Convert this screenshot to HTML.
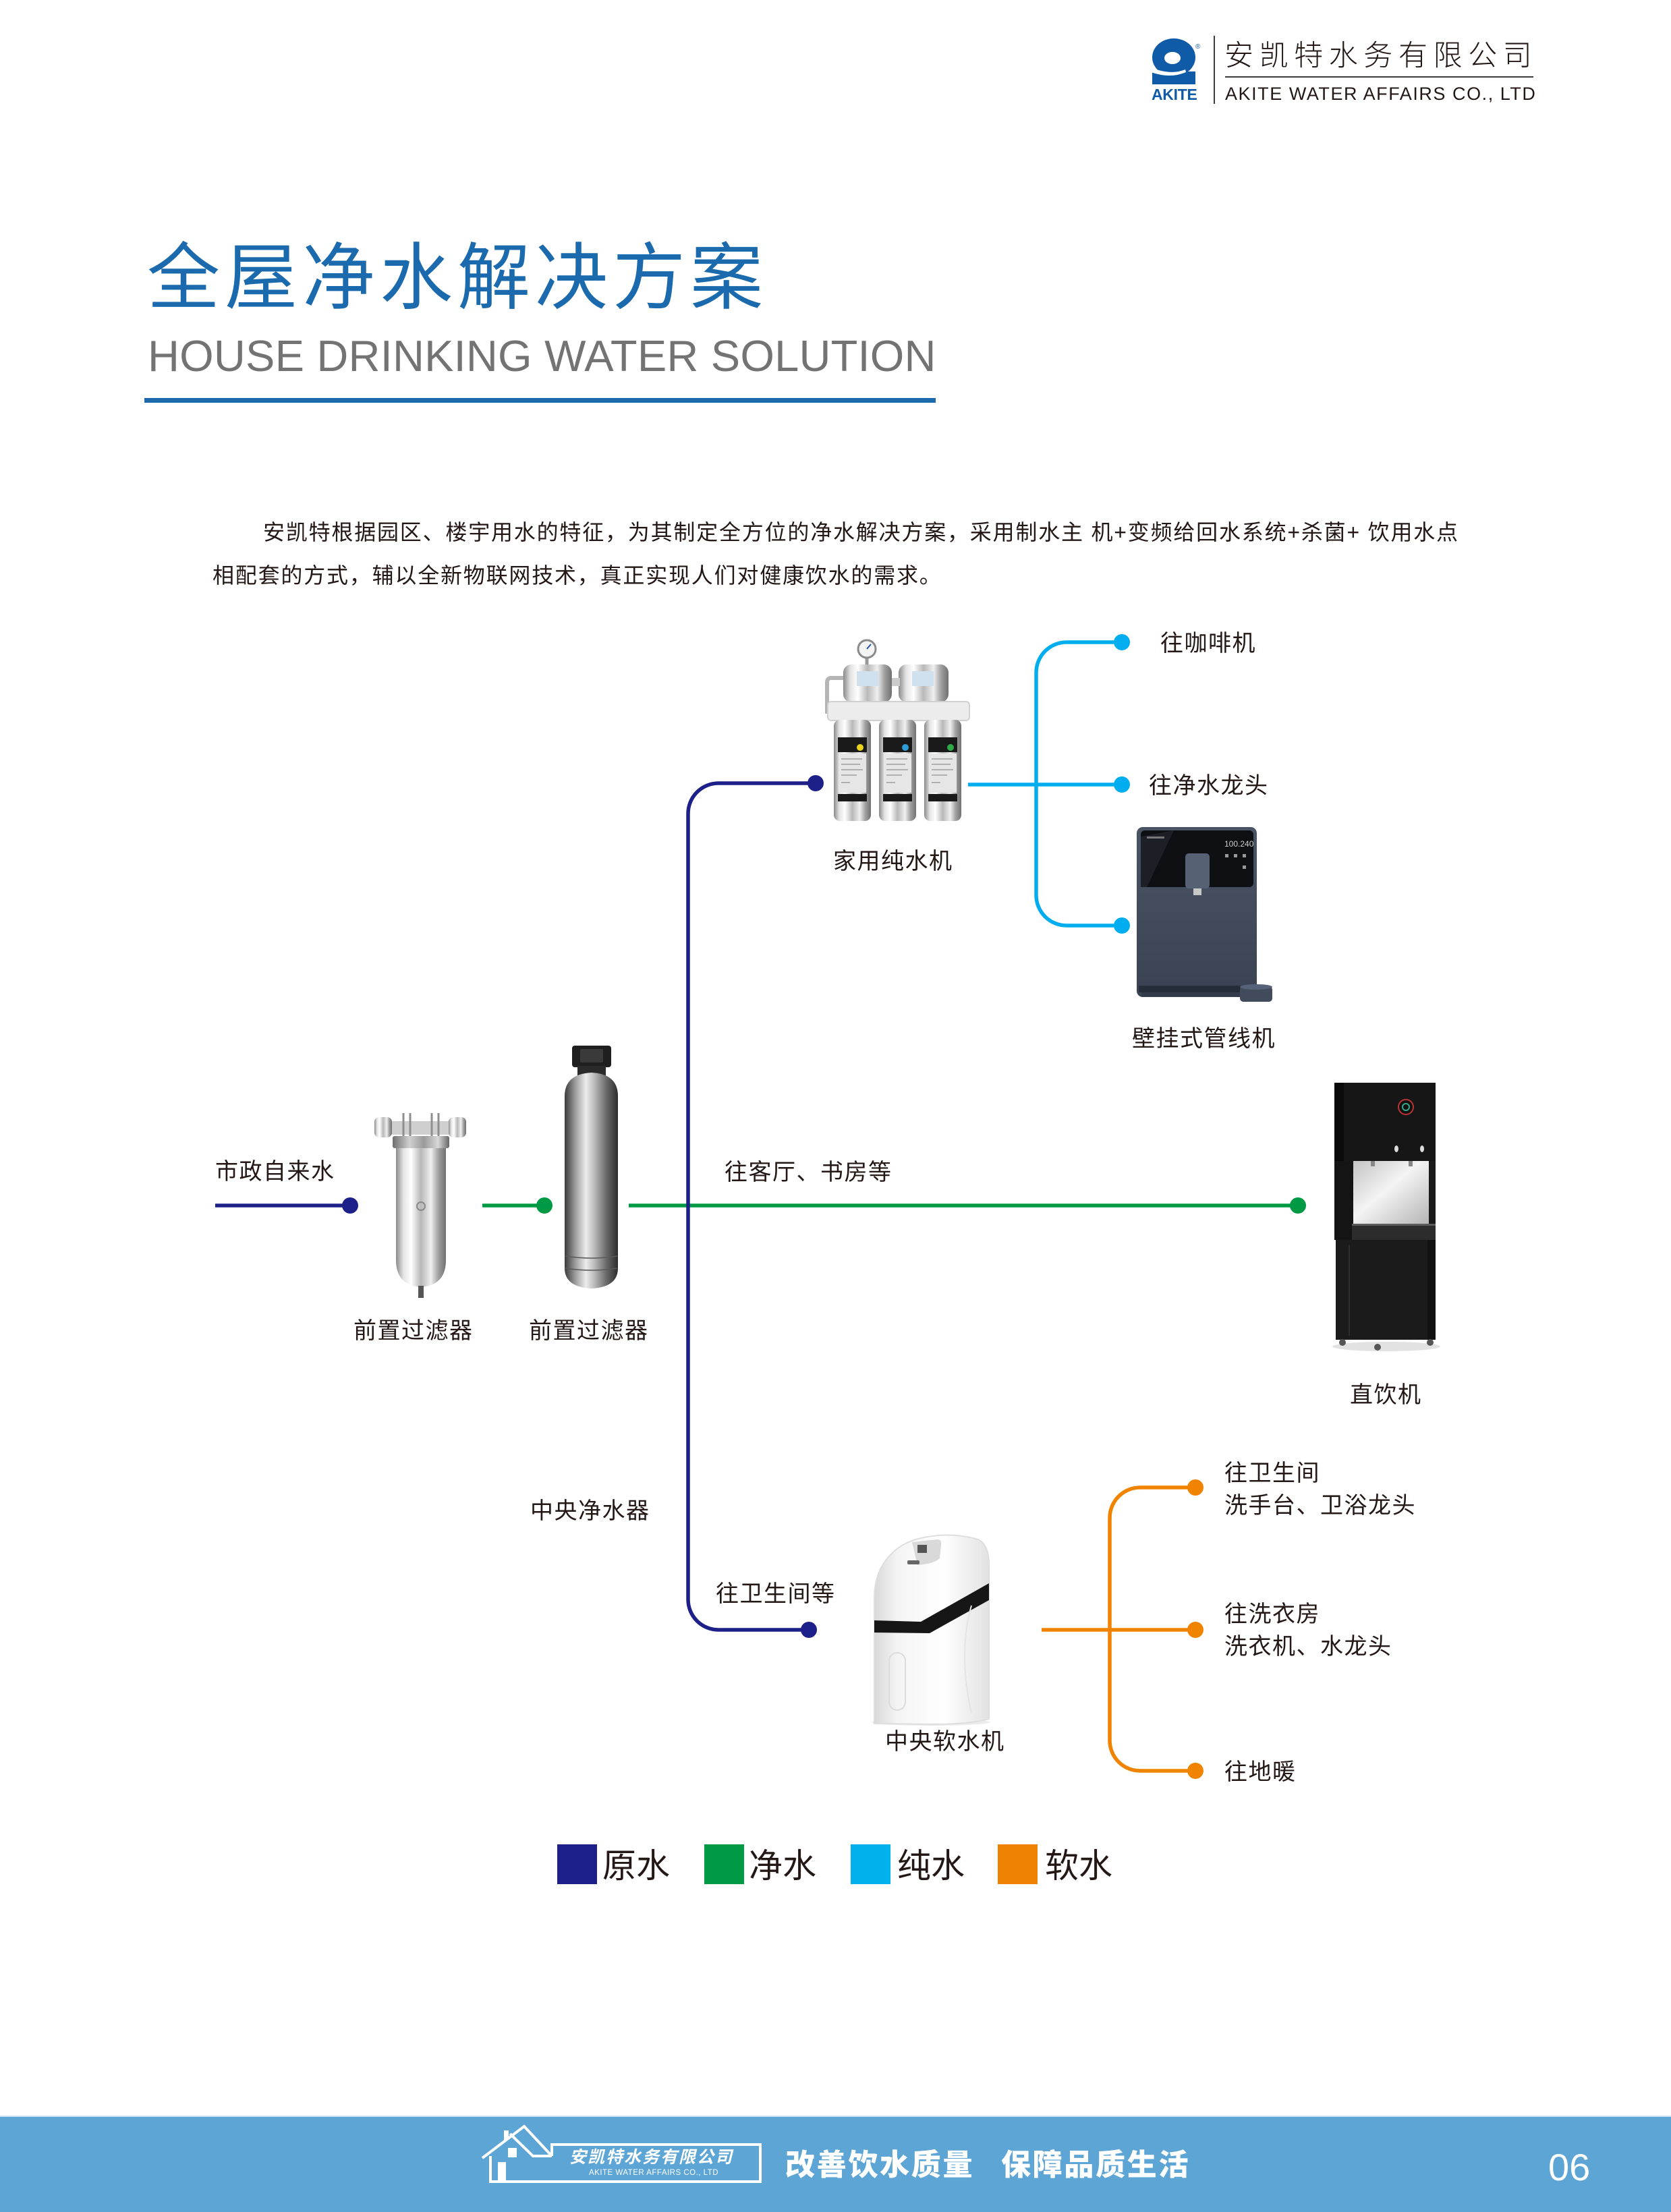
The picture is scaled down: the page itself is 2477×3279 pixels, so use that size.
<!DOCTYPE html>
<html><head><meta charset="utf-8">
<style>
html,body{margin:0;padding:0;background:#fff;}
svg{display:block;}
text{font-family:"Liberation Sans","Noto Sans CJK SC",sans-serif;}
</style></head><body>
<svg width="2477" height="3279" viewBox="0 0 2477 3279" xmlns="http://www.w3.org/2000/svg">
<defs>
 <linearGradient id="chrome" x1="0" x2="1" y1="0" y2="0">
  <stop offset="0" stop-color="#8a8a8a"/><stop offset="0.15" stop-color="#e4e4e4"/>
  <stop offset="0.3" stop-color="#ffffff"/><stop offset="0.5" stop-color="#b8b8b8"/>
  <stop offset="0.7" stop-color="#f0f0f0"/><stop offset="0.85" stop-color="#a0a0a0"/>
  <stop offset="1" stop-color="#707070"/>
 </linearGradient>
 <linearGradient id="chromeD" x1="0" x2="1" y1="0" y2="0">
  <stop offset="0" stop-color="#6e6e6e"/><stop offset="0.3" stop-color="#d0d0d0"/>
  <stop offset="0.55" stop-color="#9a9a9a"/><stop offset="0.8" stop-color="#d8d8d8"/>
  <stop offset="1" stop-color="#666"/>
 </linearGradient>
 <linearGradient id="tank" x1="0" x2="1" y1="0" y2="0">
  <stop offset="0" stop-color="#3a3a3a"/><stop offset="0.2" stop-color="#9c9c9c"/>
  <stop offset="0.4" stop-color="#ececec"/><stop offset="0.55" stop-color="#bdbdbd"/>
  <stop offset="0.78" stop-color="#6a6a6a"/><stop offset="1" stop-color="#2c2c2c"/>
 </linearGradient>
 <linearGradient id="recess" x1="0" x2="1" y1="0" y2="1">
  <stop offset="0" stop-color="#c4c4c4"/><stop offset="0.45" stop-color="#f4f4f4"/>
  <stop offset="1" stop-color="#b4b4b4"/>
 </linearGradient>
 <linearGradient id="soft" x1="0" x2="1" y1="0" y2="0">
  <stop offset="0" stop-color="#d8d8d8"/><stop offset="0.2" stop-color="#f4f4f4"/>
  <stop offset="0.6" stop-color="#ffffff"/><stop offset="1" stop-color="#e2e2e2"/>
 </linearGradient>
 <linearGradient id="wall" x1="0" x2="0" y1="0" y2="1">
  <stop offset="0" stop-color="#4a5465"/><stop offset="1" stop-color="#3a4352"/>
 </linearGradient>
</defs>
<rect width="2477" height="3279" fill="#fff"/>

<!-- ===== Header logo ===== -->
<g fill="#0f5ba7">
 <ellipse cx="1740" cy="85" rx="32" ry="28"/>
 <rect x="1708" y="106" width="64" height="19"/>
</g>
<ellipse cx="1738" cy="86" rx="12" ry="9" fill="#fff"/>
<path d="M1706,100 Q1735,112 1757,103 L1758,107 Q1735,117 1706,107 Z" fill="#fff"/>
<text x="1772" y="72" font-size="10" fill="#0f5ba7">®</text>
<text x="1707" y="148" font-size="23" font-weight="700" fill="#0f5ba7" style="letter-spacing:-0.3px">AKITE</text>
<line x1="1800" y1="53" x2="1800" y2="154" stroke="#3e3a39" stroke-width="2"/>
<text x="1815" y="97" font-size="43" font-weight="300" fill="#231815" style="letter-spacing:8.6px">安凯特水务有限公司</text>
<line x1="1816" y1="114" x2="2273" y2="114" stroke="#3e3a39" stroke-width="2"/>
<text x="1816" y="148" font-size="27" fill="#231815" style="letter-spacing:1.55px">AKITE WATER AFFAIRS CO., LTD</text>

<!-- ===== Title ===== -->
<text x="218" y="449" font-size="108" fill="#1a6aad" style="letter-spacing:7px">全屋净水解决方案</text>
<text x="219" y="550" font-size="65" fill="#747373" style="letter-spacing:0.2px">HOUSE DRINKING WATER SOLUTION</text>
<rect x="214" y="590" width="1173" height="7" fill="#1a6aad"/>

<!-- ===== Paragraph ===== -->
<text x="390" y="800" font-size="32" fill="#231815" style="letter-spacing:1.8px">安凯特根据园区、楼宇用水的特征，为其制定全方位的净水解决方案，采用制水主 机+变频给回水系统+杀菌+ 饮用水点</text>
<text x="315" y="864" font-size="32" fill="#231815" style="letter-spacing:1.8px">相配套的方式，辅以全新物联网技术，真正实现人们对健康饮水的需求。</text>

<!-- ===== Connectors ===== -->
<g fill="none" stroke-width="5.5">
 <path d="M715,1787 L807,1787 M932,1787 L1924,1787" stroke="#009944"/>
 <path d="M319,1787 L519,1787" stroke="#1d2088"/>
 <path d="M1209,1161 L1065,1161 A45,45 0 0 0 1020,1206 L1020,2371 A45,45 0 0 0 1065,2416 L1199,2416" stroke="#1d2088"/>
 <path d="M1663,952 L1581,952 A45,45 0 0 0 1536,997 L1536,1327 A45,45 0 0 0 1581,1372 L1663,1372 M1435,1163 L1663,1163" stroke="#00aeef"/>
 <path d="M1772,2205 L1690,2205 A45,45 0 0 0 1645,2250 L1645,2580 A45,45 0 0 0 1690,2625 L1772,2625 M1544,2416 L1772,2416" stroke="#f08300"/>
</g>
<g>
 <circle cx="519" cy="1787" r="12" fill="#1d2088"/>
 <circle cx="807" cy="1787" r="12" fill="#009944"/>
 <circle cx="1924" cy="1787" r="12" fill="#009944"/>
 <circle cx="1209" cy="1161" r="12" fill="#1d2088"/>
 <circle cx="1199" cy="2416" r="12" fill="#1d2088"/>
 <circle cx="1663" cy="952" r="12" fill="#00aeef"/>
 <circle cx="1663" cy="1163" r="12" fill="#00aeef"/>
 <circle cx="1663" cy="1372" r="12" fill="#00aeef"/>
 <circle cx="1772" cy="2205" r="12" fill="#f08300"/>
 <circle cx="1772" cy="2416" r="12" fill="#f08300"/>
 <circle cx="1772" cy="2625" r="12" fill="#f08300"/>
</g>

<!-- ===== RO purifier ===== -->
<g>
 <line x1="1285" y1="972" x2="1285" y2="992" stroke="#999" stroke-width="5"/>
 <circle cx="1285" cy="962" r="13" fill="#f4f4f4" stroke="#8a8a8a" stroke-width="3"/>
 <line x1="1285" y1="962" x2="1291" y2="955" stroke="#2255aa" stroke-width="2"/>
 <path d="M1252,1005 L1232,1005 Q1226,1005 1226,1012 L1226,1058" fill="none" stroke="#b5b5b5" stroke-width="6"/>
 <rect x="1250" y="985" width="72" height="56" rx="12" fill="url(#chrome)"/>
 <rect x="1332" y="985" width="74" height="56" rx="12" fill="url(#chrome)"/>
 <rect x="1270" y="995" width="32" height="22" fill="#cfe0ee"/>
 <rect x="1352" y="995" width="32" height="22" fill="#cfe0ee"/>
 <rect x="1322" y="1005" width="12" height="12" fill="#ccc"/>
 <rect x="1227" y="1040" width="210" height="28" rx="5" fill="#ececec" stroke="#d0d0d0" stroke-width="2"/>
 <rect x="1236" y="1067" width="55" height="150" rx="9" fill="url(#chrome)"/>
 <rect x="1303" y="1067" width="55" height="150" rx="9" fill="url(#chrome)"/>
 <rect x="1370" y="1067" width="55" height="150" rx="9" fill="url(#chrome)"/>
 <g fill="#1a1a1a">
  <rect x="1242" y="1093" width="43" height="22"/>
  <rect x="1309" y="1093" width="43" height="22"/>
  <rect x="1376" y="1093" width="43" height="22"/>
  <rect x="1242" y="1177" width="43" height="11"/>
  <rect x="1309" y="1177" width="43" height="11"/>
  <rect x="1376" y="1177" width="43" height="11"/>
 </g>
 <circle cx="1275" cy="1108" r="5" fill="#e8d21c"/>
 <circle cx="1342" cy="1108" r="5" fill="#2a9fd8"/>
 <circle cx="1409" cy="1108" r="5" fill="#2cab48"/>
 <g fill="#e6e6e6">
  <rect x="1243" y="1117" width="41" height="58"/>
  <rect x="1310" y="1117" width="41" height="58"/>
  <rect x="1377" y="1117" width="41" height="58"/>
 </g>
 <g stroke="#b0b0b0" stroke-width="2">
  <path d="M1247,1125 H1278 M1247,1133 H1275 M1247,1141 H1279 M1247,1149 H1270 M1247,1160 H1260"/>
  <path d="M1314,1125 H1345 M1314,1133 H1342 M1314,1141 H1346 M1314,1149 H1337 M1314,1160 H1327"/>
  <path d="M1381,1125 H1412 M1381,1133 H1409 M1381,1141 H1413 M1381,1149 H1404 M1381,1160 H1394"/>
 </g>
</g>

<!-- ===== Wall-mounted pipeline machine ===== -->
<g>
 <rect x="1685" y="1226" width="178" height="252" rx="9" fill="url(#wall)"/>
 <rect x="1691" y="1231" width="167" height="84" rx="6" fill="#0e0f12"/>
 <polygon points="1691,1240 1740,1231 1700,1315 1691,1315" fill="#1c1f26"/>
 <rect x="1700" y="1240" width="26" height="3" fill="#777"/>
 <text x="1815" y="1255" font-size="12" fill="#cfcfcf">100.240</text>
 <g fill="#999"><rect x="1816" y="1266" width="5" height="5"/><rect x="1829" y="1266" width="5" height="5"/><rect x="1842" y="1266" width="5" height="5"/><rect x="1842" y="1283" width="5" height="5"/></g>
 <rect x="1757" y="1265" width="36" height="52" rx="5" fill="#566174"/>
 <rect x="1769" y="1317" width="12" height="10" fill="#c8c8c8"/>
 <rect x="1688" y="1461" width="152" height="10" fill="#262d3a"/>
 <rect x="1692" y="1471" width="148" height="6" fill="#333c4a"/>
 <rect x="1838" y="1462" width="48" height="23" rx="5" fill="#414b5b"/>
 <ellipse cx="1862" cy="1463" rx="24" ry="4" fill="#56617a"/>
</g>

<!-- ===== Front filter 1 ===== -->
<g>
 <rect x="578" y="1662" width="90" height="20" fill="#cfcfcf"/>
 <rect x="555" y="1656" width="26" height="30" rx="7" fill="url(#chrome)"/>
 <rect x="665" y="1656" width="26" height="30" rx="7" fill="url(#chrome)"/>
 <g stroke="#8f8f8f" stroke-width="3"><line x1="598" y1="1650" x2="598" y2="1688"/><line x1="608" y1="1650" x2="608" y2="1688"/><line x1="640" y1="1650" x2="640" y2="1688"/><line x1="650" y1="1650" x2="650" y2="1688"/></g>
 <rect x="582" y="1684" width="84" height="18" rx="3" fill="url(#chromeD)"/>
 <path d="M587,1702 L661,1702 L661,1868 Q661,1905 624,1908 Q587,1905 587,1868 Z" fill="url(#chrome)"/>
 <rect x="620" y="1906" width="8" height="18" fill="#555"/>
 <circle cx="624" cy="1788" r="6" fill="none" stroke="#888" stroke-width="2"/>
</g>

<!-- ===== Tall tank ===== -->
<g>
 <rect x="848" y="1550" width="58" height="32" rx="4" fill="#1f1f1f"/>
 <rect x="860" y="1555" width="34" height="20" rx="2" fill="#3a3a3a"/>
 <rect x="856" y="1580" width="42" height="15" fill="#2a2a2a"/>
 <path d="M837,1625 Q837,1592 877,1590 Q916,1592 916,1625 L916,1880 Q916,1908 877,1910 Q837,1908 837,1880 Z" fill="url(#tank)"/>
 <g stroke="#5a5a5a" stroke-width="1.5" fill="none"><path d="M838,1862 Q877,1868 915,1862"/><path d="M838,1880 Q877,1886 915,1880"/></g>
</g>

<!-- ===== Direct drinking machine ===== -->
<g>
 <ellipse cx="2055" cy="1996" rx="80" ry="7" fill="#e2e2e2"/>
 <rect x="1978" y="1605" width="150" height="116" fill="#161616"/>
 <rect x="1978" y="1605" width="14" height="116" fill="#0a0a0a"/>
 <circle cx="2084" cy="1641" r="11" fill="#111" stroke="#b33" stroke-width="2"/>
 <circle cx="2084" cy="1641" r="5" fill="none" stroke="#3a8" stroke-width="2"/>
 <ellipse cx="2070" cy="1703" rx="3" ry="5" fill="#ddd"/>
 <ellipse cx="2108" cy="1703" rx="3" ry="5" fill="#ddd"/>
 <rect x="1978" y="1721" width="28" height="117" fill="#141414"/>
 <rect x="2006" y="1721" width="112" height="94" fill="url(#recess)"/>
 <rect x="2118" y="1721" width="10" height="94" fill="#1a1a1a"/>
 <rect x="2032" y="1721" width="6" height="8" fill="#888"/>
 <rect x="2088" y="1721" width="6" height="8" fill="#888"/>
 <rect x="2004" y="1814" width="124" height="24" fill="#2c2c2c"/>
 <rect x="2004" y="1814" width="124" height="3" fill="#5c5c5c"/>
 <rect x="1980" y="1838" width="148" height="148" fill="#1b1b1b"/>
 <rect x="2116" y="1838" width="12" height="148" fill="#111"/>
 <line x1="2000" y1="1845" x2="2000" y2="1980" stroke="#2e2e2e" stroke-width="2"/>
 <circle cx="1990" cy="1990" r="5" fill="#555"/>
 <circle cx="2042" cy="1997" r="5" fill="#555"/>
 <circle cx="2120" cy="1990" r="5" fill="#555"/>
</g>

<!-- ===== Water softener ===== -->
<g>
 <ellipse cx="1380" cy="2553" rx="88" ry="5" fill="#ececec"/>
 <path d="M1296,2555 L1296,2370 Q1296,2325 1325,2300 Q1340,2286 1365,2280 Q1410,2270 1450,2282 Q1466,2290 1466,2320 L1466,2548 Q1440,2556 1380,2556 Z" fill="url(#soft)" stroke="#dedede" stroke-width="2"/>
 <path d="M1352,2286 L1390,2282 Q1396,2282 1395,2290 L1393,2310 Q1385,2318 1360,2320 Z" fill="#d9d9d9"/>
 <rect x="1360" y="2290" width="14" height="12" fill="#555"/>
 <rect x="1345" y="2313" width="18" height="6" rx="2" fill="#666"/>
 <polygon points="1296,2402 1365,2404 1466,2347 1466,2372 1378,2421 1296,2420" fill="#161616"/>
 <rect x="1318" y="2450" width="24" height="85" rx="12" fill="none" stroke="#dcdcdc" stroke-width="2"/>
 <path d="M1440,2380 Q1420,2450 1440,2540" fill="none" stroke="#e4e4e4" stroke-width="2"/>
</g>

<!-- ===== Labels ===== -->
<g font-size="34" fill="#231815" style="letter-spacing:1.5px">
 <text x="1720" y="965">往咖啡机</text>
 <text x="1703" y="1176">往净水龙头</text>
 <text x="1235" y="1288">家用纯水机</text>
 <text x="1678" y="1551">壁挂式管线机</text>
 <text x="319" y="1748">市政自来水</text>
 <text x="524" y="1984">前置过滤器</text>
 <text x="784" y="1984">前置过滤器</text>
 <text x="1074" y="1749">往客厅、书房等</text>
 <text x="2001" y="2079">直饮机</text>
 <text x="786" y="2251">中央净水器</text>
 <text x="1061" y="2374">往卫生间等</text>
 <text x="1312" y="2593">中央软水机</text>
 <text x="1815" y="2195">往卫生间</text>
 <text x="1815" y="2243">洗手台、卫浴龙头</text>
 <text x="1815" y="2404">往洗衣房</text>
 <text x="1815" y="2452">洗衣机、水龙头</text>
 <text x="1815" y="2638">往地暖</text>
</g>

<!-- ===== Legend ===== -->
<rect x="826" y="2734" width="59" height="59" fill="#1d2088"/>
<rect x="1044" y="2734" width="59" height="59" fill="#009a44"/>
<rect x="1261" y="2734" width="59" height="59" fill="#00b1ec"/>
<rect x="1479" y="2734" width="59" height="59" fill="#ef8200"/>
<g font-size="50" fill="#231815">
 <text x="893" y="2783">原水</text>
 <text x="1110" y="2783">净水</text>
 <text x="1330" y="2783">纯水</text>
 <text x="1549" y="2783">软水</text>
</g>

<!-- ===== Footer ===== -->
<rect x="0" y="3137" width="2477" height="142" fill="#5da5d5"/>
<rect x="0" y="3136" width="2477" height="2" fill="#cfe4f3"/>
<g fill="none" stroke="#fff" stroke-width="4" stroke-linejoin="miter">
 <path d="M715,3199 L777,3152 L818,3196"/>
 <path d="M756,3163 L790,3196 L818,3196"/>
 <path d="M727,3196 L727,3234 L1127,3234 L1127,3179 L818,3179 L818,3196"/>
</g>
<rect x="747" y="3158" width="7" height="14" fill="#fff"/>
<rect x="753" y="3184" width="13" height="14" fill="#fff"/>
<rect x="738" y="3205" width="12" height="28" fill="#fff"/>
<text x="844" y="3206" font-size="25" font-weight="700" font-style="italic" fill="#fff" style="letter-spacing:2px">安凯特水务有限公司</text>
<text x="873" y="3224" font-size="11.5" fill="#fff" style="letter-spacing:0.5px">AKITE WATER AFFAIRS CO., LTD</text>
<text x="1164" y="3224" font-size="44" font-weight="900" fill="#fff" style="letter-spacing:2.7px">改善饮水质量</text>
<text x="1484" y="3224" font-size="44" font-weight="900" fill="#fff" style="letter-spacing:2.7px">保障品质生活</text>
<text x="2295" y="3232" font-size="56" fill="#fff">06</text>
</svg>
</body></html>
